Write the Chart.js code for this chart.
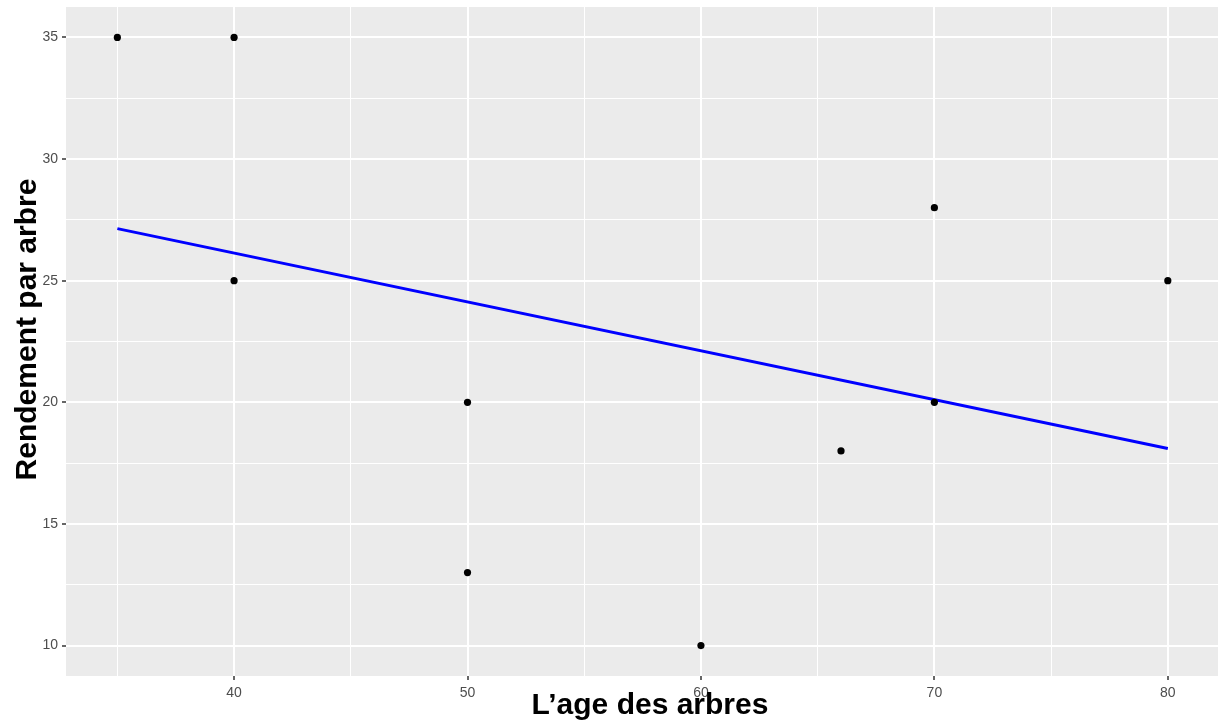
<!DOCTYPE html>
<html>
<head>
<meta charset="utf-8">
<script src="https://cdn.jsdelivr.net/npm/chart.js@4.4.1/dist/chart.umd.min.js"></script>
<style>
  html, body { margin: 0; padding: 0; background: #ffffff; }
  #wrap { width: 1218px; height: 725px; }
</style>
</head>
<body>
<div id="wrap"><canvas id="chart"></canvas></div>
<script>
// Data
const ages = [35, 40, 40, 50, 50, 60, 66, 70, 70, 80];
const yields = [35, 35, 25, 20, 13, 10, 18, 28, 20, 25];

// Fitted line endpoints
const fitX = [35, 80];
const fitY = [27.14, 18.1];

// Axis breaks
const xMajor = [40, 50, 60, 70, 80];
const xMinor = [35, 45, 55, 65, 75];
const yMajor = [10, 15, 20, 25, 30, 35];
const yMinor = [12.5, 17.5, 22.5, 27.5, 32.5];

const xTitle = 'L\u2019age des arbres';
const yTitle = 'Rendement par arbre';

// visible range of the panel (the right side is cut by the image edge)
const xLim = [32.8, 82.15];
const yLim = [8.75, 36.25];

const points = ages.map((a, i) => ({ x: a, y: yields[i] }));
const fit = fitX.map((a, i) => ({ x: a, y: fitY[i] }));

const titleFont = 'bold 30px "Liberation Sans", Arial, sans-serif';

const panelBg = {
  id: 'panelBg',
  beforeDraw(chart) {
    const { ctx, chartArea: a } = chart;
    ctx.save();
    ctx.fillStyle = '#EBEBEB';
    ctx.fillRect(a.left, a.top, a.right - a.left, a.bottom - a.top);
    ctx.restore();
  }
};

// axis titles, placed like the ggplot output
const axisTitles = {
  id: 'axisTitles',
  afterDraw(chart) {
    const { ctx, chartArea: a } = chart;
    ctx.save();
    ctx.fillStyle = '#000000';
    ctx.font = titleFont;
    ctx.textAlign = 'center';
    ctx.textBaseline = 'alphabetic';
    ctx.fillText(xTitle, (a.left + a.right) / 2 + 8, chart.height - 11.5);
    ctx.translate(35.5, (a.top + a.bottom) / 2 - 12);
    ctx.rotate(-Math.PI / 2);
    ctx.fillText(yTitle, 0, 0);
    ctx.restore();
  }
};

function setTicks(major, minor) {
  return function(scale) {
    scale.ticks = major.concat(minor).sort((a, b) => a - b).map(v => ({ value: v }));
  };
}

function isMajor(list) {
  return ctx => ctx.tick && list.includes(ctx.tick.value);
}

const ctx = document.getElementById('chart').getContext('2d');
new Chart(ctx, {
  type: 'scatter',
  data: {
    datasets: [
      {
        data: fit,
        showLine: true,
        borderColor: '#0000FF',
        borderWidth: 3,
        pointRadius: 0,
        fill: false,
        order: 1
      },
      {
        data: points,
        backgroundColor: '#000000',
        borderColor: '#000000',
        pointRadius: 3.6,
        borderWidth: 0,
        order: 0
      }
    ]
  },
  plugins: [panelBg, axisTitles],
  options: {
    responsive: true,
    maintainAspectRatio: false,
    animation: false,
    layout: { autoPadding: false, padding: { top: 7, right: 0, left: 0, bottom: 0 } },
    plugins: {
      legend: { display: false },
      tooltip: { enabled: false }
    },
    scales: {
      x: {
        type: 'linear',
        min: xLim[0],
        max: xLim[1],
        afterBuildTicks: setTicks(xMajor, xMinor),
        afterFit(scale) {
          scale.height = 49;
          scale.paddingLeft = 0;
          scale.paddingRight = 0;
        },
        border: { display: false },
        grid: {
          color: '#FFFFFF',
          lineWidth: ctx => isMajor(xMajor)(ctx) ? 2 : 1,
          drawTicks: true,
          tickLength: 4,
          tickWidth: 1.5,
          tickColor: ctx => isMajor(xMajor)(ctx) ? '#333333' : 'rgba(0,0,0,0)'
        },
        ticks: {
          autoSkip: false,
          maxRotation: 0,
          padding: 5,
          color: '#4D4D4D',
          font: { family: 'Liberation Sans, Arial, sans-serif', size: 14 },
          callback: v => xMajor.includes(v) ? String(v) : ''
        },
        title: { display: false }
      },
      y: {
        type: 'linear',
        min: yLim[0],
        max: yLim[1],
        afterBuildTicks: setTicks(yMajor, yMinor),
        afterFit(scale) {
          scale.width = 66;
          scale.paddingTop = 0;
          scale.paddingBottom = 0;
        },
        border: { display: false },
        grid: {
          color: '#FFFFFF',
          lineWidth: ctx => isMajor(yMajor)(ctx) ? 2 : 1,
          drawTicks: true,
          tickLength: 4,
          tickWidth: 1.5,
          tickColor: ctx => isMajor(yMajor)(ctx) ? '#333333' : 'rgba(0,0,0,0)'
        },
        ticks: {
          autoSkip: false,
          padding: 4,
          color: '#4D4D4D',
          font: { family: 'Liberation Sans, Arial, sans-serif', size: 14 },
          callback: v => yMajor.includes(v) ? String(v) : ''
        },
        title: { display: false }
      }
    }
  }
});
</script>
</body>
</html>
